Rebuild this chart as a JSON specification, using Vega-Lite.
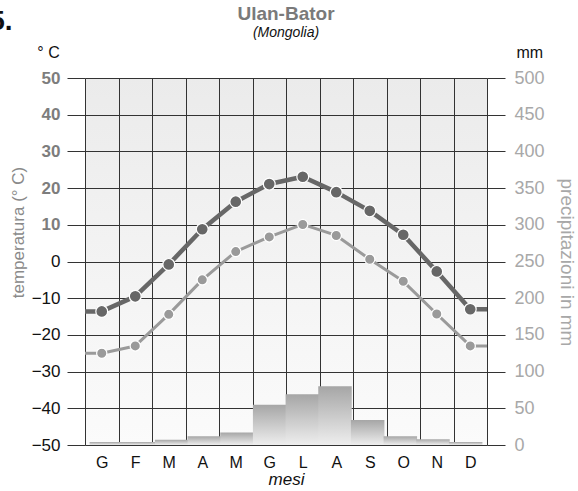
{
  "$schema": "https://vega.github.io/schema/vega-lite/v6.json",
  "width": 402,
  "height": 367,
  "autosize": {"type": "none"},
  "padding": {"left": 85, "top": 78, "right": 91, "bottom": 46},
  "background": "white",
  "title": {
    "text": "Ulan-Bator",
    "subtitle": "(Mongolia)",
    "anchor": "middle",
    "font": "Liberation Sans",
    "fontSize": 19,
    "fontWeight": "bold",
    "color": "#7a7a7a",
    "subtitleFont": "Liberation Sans",
    "subtitleFontSize": 14,
    "subtitleFontStyle": "italic",
    "subtitleColor": "#111111",
    "subtitlePadding": 2,
    "offset": -33
  },
  "config": {
    "font": "Liberation Sans",
    "view": {
      "stroke": null,
      "fill": {"gradient": "linear", "x1": 0, "y1": 0, "x2": 0, "y2": 1,
        "stops": [{"offset": 0, "color": "#ebebeb"}, {"offset": 1, "color": "#fbfbfb"}]}
    }
  },
  "datasets": {
    "temps": [
      {"m": 0.5, "tmax": -13.6, "tmin": -25.0, "edge": true},
      {"m": 1, "tmax": -13.6, "tmin": -25.0},
      {"m": 2, "tmax": -9.5, "tmin": -23.0},
      {"m": 3, "tmax": -0.8, "tmin": -14.4},
      {"m": 4, "tmax": 8.8, "tmin": -5.0},
      {"m": 5, "tmax": 16.3, "tmin": 2.7},
      {"m": 6, "tmax": 21.1, "tmin": 6.7},
      {"m": 7, "tmax": 23.1, "tmin": 10.1},
      {"m": 8, "tmax": 18.9, "tmin": 7.1},
      {"m": 9, "tmax": 13.8, "tmin": 0.6},
      {"m": 10, "tmax": 7.3, "tmin": -5.4},
      {"m": 11, "tmax": -2.7, "tmin": -14.3},
      {"m": 12, "tmax": -13.0, "tmin": -23.0},
      {"m": 12.5, "tmax": -13.0, "tmin": -23.0, "edge": true}
    ],
    "prec": [
      {"m": 1, "p": 4}, {"m": 2, "p": 4}, {"m": 3, "p": 7}, {"m": 4, "p": 12},
      {"m": 5, "p": 17}, {"m": 6, "p": 55}, {"m": 7, "p": 69}, {"m": 8, "p": 80},
      {"m": 9, "p": 34}, {"m": 10, "p": 12}, {"m": 11, "p": 8}, {"m": 12, "p": 4}
    ]
  },
  "layer": [
    {
      "data": {"name": "temps"},
      "transform": [{"fold": ["tmax", "tmin"], "as": ["serie", "t"]}],
      "encoding": {
        "x": {"field": "m", "type": "quantitative", "scale": {"domain": [0.5, 12.5], "nice": false, "zero": false},
          "axis": {
            "orient": "bottom",
            "values": [0.5, 1.5, 2.5, 3.5, 4.5, 5.5, 6.5, 7.5, 8.5, 9.5, 10.5, 11.5, 12.5],
            "grid": true, "gridColor": "#333333", "gridOpacity": 1, "gridWidth": 1,
            "ticks": false, "domain": false,
            "labelExpr": "['G','F','M','A','M','G','L','A','S','O','N','D'][round(datum.value - 0.5)] || ''",
            "labelOffset": 16.75, "labelPadding": 9, "labelFontSize": 16, "labelColor": "#111111",
            "labelAlign": "center", "labelFlush": false, "labelOverlap": false, "labelBound": false,
            "title": "mesi", "titleFontStyle": "italic", "titleFontWeight": "normal", "titleFontSize": 17,
            "titleColor": "#111111", "titlePadding": 1
          }},
        "y": {"field": "t", "type": "quantitative", "scale": {"domain": [-50, 50], "nice": false},
          "axis": {
            "orient": "left",
            "values": [-50, -40, -30, -20, -10, 0, 10, 20, 30, 40, 50],
            "grid": true, "gridColor": "#333333", "gridOpacity": 1, "gridWidth": 1,
            "tickSize": 18, "tickColor": "#333333", "domain": false,
            "labelPadding": 7, "labelFontSize": 17,
            "labelFontWeight": {"condition": {"test": "datum.value > 0", "value": "bold"}, "value": "normal"},
            "labelColor": {"condition": {"test": "datum.value > 0", "value": "#7d7d7d"}, "value": "#111111"},
            "labelFlush": false, "labelOverlap": false,
            "title": "temperatura (° C)", "titleFontWeight": "normal", "titleFontSize": 17,
            "titleColor": "#8a8a8a", "titleX": -67, "titleY": 154, "titleAngle": -90,
            "titleAlign": "center", "titleBaseline": "middle"
          }},
        "color": {"field": "serie", "type": "nominal",
          "scale": {"domain": ["tmax", "tmin"], "range": ["#676767", "#9a9a9a"]}, "legend": null}
      },
      "layer": [
        {"mark": {"type": "line", "strokeCap": "butt", "strokeJoin": "round"},
         "encoding": {"strokeWidth": {"field": "serie", "type": "nominal",
           "scale": {"domain": ["tmax", "tmin"], "range": [4.5, 3]}, "legend": null}}},
        {"transform": [{"filter": "datum.edge != true"}],
         "mark": {"type": "point", "filled": true, "opacity": 1, "stroke": "white", "strokeWidth": 1.2},
         "encoding": {"size": {"field": "serie", "type": "nominal",
           "scale": {"domain": ["tmax", "tmin"], "range": [140, 105]}, "legend": null},
           "stroke": {"value": "white"}}}
      ]
    },
    {
      "data": {"name": "prec"},
      "mark": {"type": "bar", "width": 33.5, "stroke": null,
        "color": {"gradient": "linear", "x1": 0, "y1": 0, "x2": 0, "y2": 1,
          "stops": [{"offset": 0, "color": "#a6a6a6"}, {"offset": 1, "color": "#eeeeee"}]}},
      "encoding": {
        "x": {"field": "m", "type": "quantitative", "scale": {"domain": [0.5, 12.5], "nice": false, "zero": false}, "axis": null},
        "y": {"field": "p", "type": "quantitative", "scale": {"domain": [0, 500], "nice": false},
          "axis": {
            "orient": "right",
            "values": [0, 50, 100, 150, 200, 250, 300, 350, 400, 450, 500],
            "grid": false, "tickSize": 18, "tickColor": "#333333", "domain": false,
            "labelPadding": 9, "labelFontSize": 18, "labelColor": "#a8a8a8",
            "labelFlush": false, "labelOverlap": false,
            "title": "precipitazioni in mm", "titleFontWeight": "normal", "titleFontSize": 19,
            "titleColor": "#a8a8a8", "titleX": 79, "titleY": 184, "titleAngle": 90,
            "titleAlign": "center", "titleBaseline": "middle"
          }}
      }
    },
    {
      "data": {"name": "prec"},
      "mark": {"type": "point", "opacity": 0},
      "encoding": {
        "x": {"field": "m", "type": "quantitative", "scale": {"domain": [0.5, 12.5], "nice": false, "zero": false},
          "axis": {"orient": "top", "labels": false, "ticks": false, "domain": false, "grid": false,
            "title": "5.", "titleFontSize": 28, "titleFontWeight": "bold", "titleColor": "#111111",
            "titleX": -73, "titleY": -49, "titleAlign": "right", "titleBaseline": "alphabetic", "titleAngle": 0}},
        "y": {"field": "p", "type": "quantitative", "scale": {"domain": [0, 500], "nice": false},
          "axis": {"orient": "left", "labels": false, "ticks": false, "domain": false, "grid": false,
            "title": "° C", "titleFontSize": 16, "titleFontWeight": "normal", "titleColor": "#111111",
            "titleX": -37, "titleY": -21, "titleAlign": "center", "titleBaseline": "alphabetic", "titleAngle": 0}}
      }
    },
    {
      "data": {"name": "prec"},
      "mark": {"type": "point", "opacity": 0},
      "encoding": {
        "x": {"field": "m", "type": "quantitative", "scale": {"domain": [0.5, 12.5], "nice": false, "zero": false}, "axis": null},
        "y": {"field": "p", "type": "quantitative", "scale": {"domain": [0, 500], "nice": false},
          "axis": {"orient": "right", "labels": false, "ticks": false, "domain": false, "grid": false,
            "title": "mm", "titleFontSize": 16, "titleFontWeight": "normal", "titleColor": "#111111",
            "titleX": 29, "titleY": -21, "titleAlign": "left", "titleBaseline": "alphabetic", "titleAngle": 0}}
      }
    }
  ],
  "resolve": {"scale": {"x": "independent", "y": "independent"}}
}
